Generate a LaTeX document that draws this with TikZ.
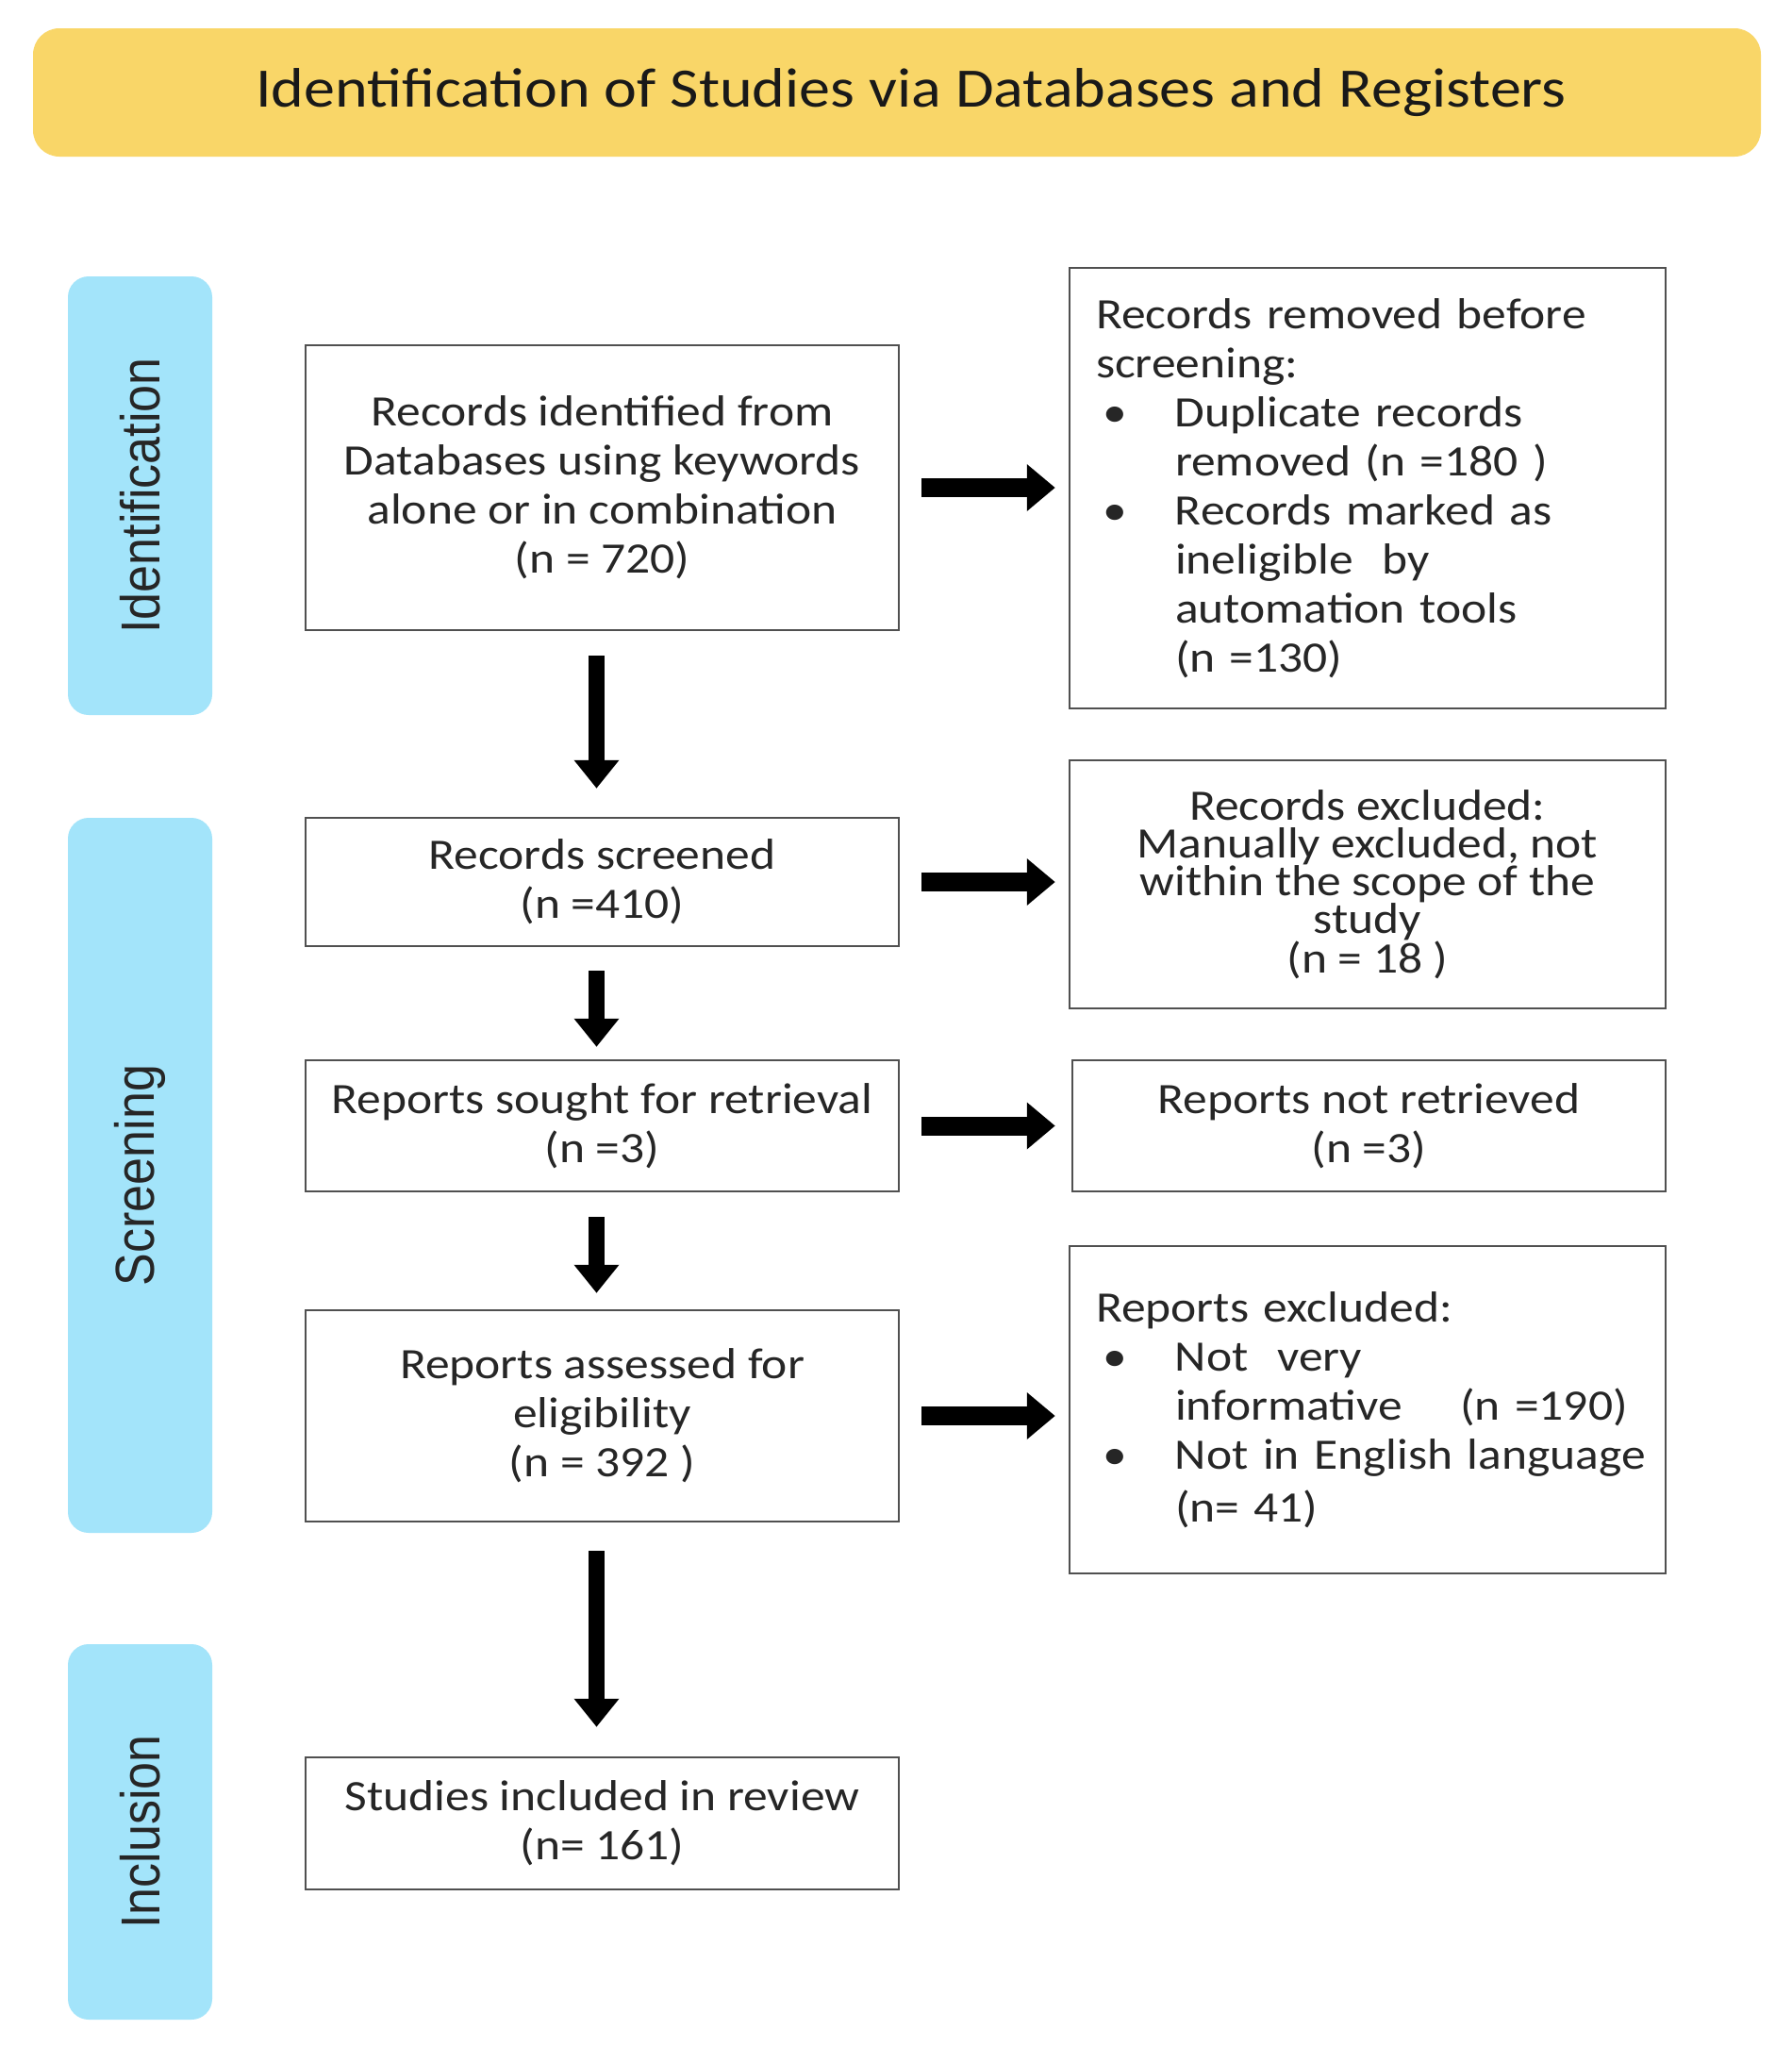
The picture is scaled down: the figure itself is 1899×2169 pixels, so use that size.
\documentclass[tikz,border=0pt]{standalone}
\usepackage{fontspec}
\setmainfont{Carlito}[FakeStretch=1.12]
\newfontfamily\sidefont{Liberation Sans}
\usetikzlibrary{arrows.meta}
\definecolor{bannercol}{RGB}{249,214,104}
\definecolor{sidecol}{RGB}{163,228,250}
\definecolor{boxline}{RGB}{80,80,80}
\definecolor{txt}{RGB}{38,38,38}
\newcommand{\bul}{\hspace*{7pt}\makebox[77pt][l]{\textbullet}}
\newcommand{\ind}{\hspace*{84pt}}
\begin{document}
\begin{tikzpicture}[x=1pt,y=-1pt,
  fbox/.style={draw=boxline, line width=2.5pt, inner sep=0pt, text=txt,
    font=\fontsize{46}{52}\selectfont},
  cbox/.style={fbox, align=center},
  lbox/.style={fbox, align=left, inner xsep=28pt},
  sidebox/.style={fill=sidecol, rounded corners=22pt, inner sep=0pt, rotate=90,
    text=black!85, font=\sidefont\fontsize{52}{58}\selectfont},
  harrow/.style={line width=20pt, -{Triangle[length=30pt,width=48pt]}},
  varrow/.style={line width=17pt, -{Triangle[length=30pt,width=46pt]}}]
\fill[white] (0,0) rectangle (1899,2169);
\useasboundingbox (0,0) rectangle (1899,2169);

% title banner
\node[fill=bannercol, rounded corners=28pt, minimum width=1832pt, minimum height=136pt,
  inner sep=0pt, text=black!90] (title) at (951,98)
  {\fontsize{59}{70}\selectfont\hspace*{30pt}Identification of Studies via Databases and Registers};

% side bars
\node[sidebox, minimum width=465pt, minimum height=153pt] (sideid) at (148.5,525.5)
  {\scalebox{1}[1.12]{Identification}};
\node[sidebox, minimum width=758pt, minimum height=153pt] (sidescr) at (148.5,1246)
  {\scalebox{1}[1.12]{Screening}};
\node[sidebox, minimum width=398pt, minimum height=153pt] (sideinc) at (148.5,1942)
  {\scalebox{1}[1.12]{Inclusion}};

% main column
\node[cbox, minimum width=629pt, minimum height=302pt] (rec) at (638.5,517)
  {Records identified from\\Databases using keywords\\alone or in combination\\(n = 720)};
\node[cbox, minimum width=629pt, minimum height=136pt] (scr) at (638.5,935)
  {Records screened\\(n =410)};
\node[cbox, minimum width=629pt, minimum height=139pt] (sou) at (638.5,1193.5)
  {Reports sought for retrieval\\(n =3)};
\node[cbox, minimum width=629pt, minimum height=224pt] (ass) at (638.5,1501)
  {Reports assessed for\\eligibility\\(n = 392 )};
\node[cbox, minimum width=629pt, minimum height=140pt] (inc) at (638.5,1933)
  {Studies included in review\\(n= 161)};

% right column
\node[lbox, minimum width=632pt, minimum height=467pt, text width=576pt] (rem) at (1450,517.5)
  {Records removed before\\screening:\\
   \bul Duplicate records\\\ind removed (n =180 )\\
   \bul Records marked as\\\ind ineligible\ \ by\\\ind automation tools\\\ind (n =130)};
\node[cbox, minimum width=632pt, minimum height=263pt, font=\fontsize{46}{40}\selectfont] (rex) at (1450,937.5)
  {Records excluded:\\Manually excluded, not\\within the scope of the\\study\\(n = 18 )};
\node[cbox, minimum width=629pt, minimum height=139pt] (rnr) at (1451.5,1193.5)
  {Reports not retrieved\\(n =3)};
\node[lbox, minimum width=632pt, minimum height=347pt, text width=576pt] (rpx) at (1450,1494.5)
  {Reports excluded:\\
   \bul Not\ \ very\\\ind informative\ \ \ \ (n =190)\\
   \bul \mbox{Not in English language}\\[4pt]\ind (n= 41)};

% horizontal arrows
\draw[harrow, shorten <=23pt, shorten >=14pt] (rec.east) -- (rec.east -| rem.west);
\draw[harrow, shorten <=23pt, shorten >=14pt] (scr.east) -- (scr.east -| rex.west);
\draw[harrow, shorten <=23pt, shorten >=17pt] (sou.east) -- (sou.east -| rnr.west);
\draw[harrow, shorten <=23pt, shorten >=14pt] (ass.east) -- (ass.east -| rpx.west);

% vertical arrows
\draw[varrow, shorten <=26pt, shorten >=30pt] ([xshift=-6pt]rec.south) -- ([xshift=-6pt]scr.north);
\draw[varrow, shorten <=25pt, shorten >=13pt] ([xshift=-6pt]scr.south) -- ([xshift=-6pt]sou.north);
\draw[varrow, shorten <=26pt, shorten >=17pt] ([xshift=-6pt]sou.south) -- ([xshift=-6pt]ass.north);
\draw[varrow, shorten <=30pt, shorten >=31pt] ([xshift=-6pt]ass.south) -- ([xshift=-6pt]inc.north);
\end{tikzpicture}
\end{document}
